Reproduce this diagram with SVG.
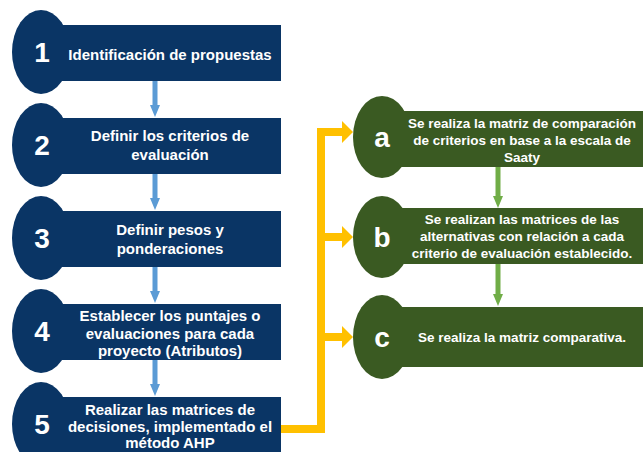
<svg xmlns="http://www.w3.org/2000/svg" width="643" height="452" viewBox="0 0 643 452">
<style>
.nb{fill:#0A3565}
.ng{fill:#3A5A22}
.num{font-family:"Liberation Sans",Arial,sans-serif;font-weight:bold;fill:#fff;font-size:28px;text-anchor:middle}
.t{font-family:"Liberation Sans",Arial,sans-serif;font-weight:bold;fill:#fff;font-size:15px;text-anchor:middle}
.tg{font-family:"Liberation Sans",Arial,sans-serif;font-weight:bold;fill:#fff;font-size:13.5px;text-anchor:middle}
.ab{stroke:#5B9BD5;stroke-width:5;fill:none}
.ag{stroke:#70AD47;stroke-width:5;fill:none}
.ay{stroke:#FFC000;stroke-width:8;fill:none}
</style>
<defs>
<marker id="mb" markerUnits="userSpaceOnUse" markerWidth="12" markerHeight="10" refX="0" refY="5" orient="auto" viewBox="0 0 12 10"><path d="M0,0 L12,5 L0,10 Z" fill="#5B9BD5"/></marker>
<marker id="mg" markerUnits="userSpaceOnUse" markerWidth="12" markerHeight="10" refX="0" refY="5" orient="auto" viewBox="0 0 12 10"><path d="M0,0 L12,5 L0,10 Z" fill="#70AD47"/></marker>
<marker id="my" markerUnits="userSpaceOnUse" markerWidth="11" markerHeight="22" refX="0" refY="11" orient="auto" viewBox="0 0 11 22"><path d="M0,0 L11,11 L0,22 Z" fill="#FFC000"/></marker>
</defs>
<g id="connectors">
<line class="ab" x1="155" y1="81" x2="155" y2="105" marker-end="url(#mb)"/>
<line class="ab" x1="155" y1="174" x2="155" y2="198" marker-end="url(#mb)"/>
<line class="ab" x1="155" y1="267" x2="155" y2="291" marker-end="url(#mb)"/>
<line class="ab" x1="155" y1="360" x2="155" y2="384" marker-end="url(#mb)"/>
<line class="ag" x1="498" y1="167" x2="498" y2="196" marker-end="url(#mg)"/>
<line class="ag" x1="498" y1="264" x2="498" y2="294" marker-end="url(#mg)"/>
<path class="ay" d="M281,429 H321 V132 H342" marker-end="url(#my)"/>
<path class="ay" d="M321,237 H342" marker-end="url(#my)"/>
<path class="ay" d="M321,337 H342" marker-end="url(#my)"/>
</g>
<g id="node1">
<ellipse class="nb" cx="41" cy="52" rx="29" ry="42"/>
<rect class="nb" x="60" y="25" width="221" height="56"/>
<text class="num" x="42" y="62">1</text>
<text class="t" x="170" y="60">Identificación de propuestas</text>
</g>
<g id="node2">
<ellipse class="nb" cx="41" cy="145" rx="29" ry="42"/>
<rect class="nb" x="60" y="118" width="221" height="56"/>
<text class="num" x="42" y="155">2</text>
<text class="t" x="170" y="141">Definir los criterios de</text>
<text class="t" x="170" y="160">evaluación</text>
</g>
<g id="node3">
<ellipse class="nb" cx="41" cy="238" rx="29" ry="42"/>
<rect class="nb" x="60" y="211" width="221" height="56"/>
<text class="num" x="42" y="248">3</text>
<text class="t" x="170" y="235">Definir pesos y</text>
<text class="t" x="170" y="254">ponderaciones</text>
</g>
<g id="node4">
<ellipse class="nb" cx="41" cy="331" rx="29" ry="42"/>
<rect class="nb" x="60" y="304" width="221" height="56"/>
<text class="num" x="42" y="341">4</text>
<text class="t" x="170" y="321">Establecer los puntajes o</text>
<text class="t" x="170" y="339">evaluaciones para cada</text>
<text class="t" x="170" y="356">proyecto (Atributos)</text>
</g>
<g id="node5">
<ellipse class="nb" cx="41" cy="424" rx="29" ry="42"/>
<rect class="nb" x="60" y="397" width="221" height="56"/>
<text class="num" x="42" y="434">5</text>
<text class="t" x="170" y="415">Realizar las matrices de</text>
<text class="t" x="170" y="432">decisiones, implementado el</text>
<text class="t" x="170" y="448">método AHP</text>
</g>
<g id="nodeA">
<ellipse class="ng" cx="382" cy="137" rx="29" ry="41"/>
<rect class="ng" x="400" y="111" width="243" height="56"/>
<text class="num" x="382" y="147">a</text>
<text class="tg" x="522" y="128">Se realiza la matriz de comparación</text>
<text class="tg" x="522" y="145">de criterios en base a la escala de</text>
<text class="tg" x="522" y="162">Saaty</text>
</g>
<g id="nodeB">
<ellipse class="ng" cx="382" cy="237" rx="29" ry="41"/>
<rect class="ng" x="400" y="208" width="243" height="56"/>
<text class="num" x="382" y="247">b</text>
<text class="tg" x="522" y="224">Se realizan las matrices de las</text>
<text class="tg" x="522" y="241">alternativas con relación a cada</text>
<text class="tg" x="522" y="258">criterio de evaluación establecido.</text>
</g>
<g id="nodeC">
<ellipse class="ng" cx="382" cy="337" rx="29" ry="42"/>
<rect class="ng" x="400" y="307" width="243" height="60"/>
<text class="num" x="382" y="347">c</text>
<text class="tg" x="522" y="342">Se realiza la matriz comparativa.</text>
</g>
</svg>
